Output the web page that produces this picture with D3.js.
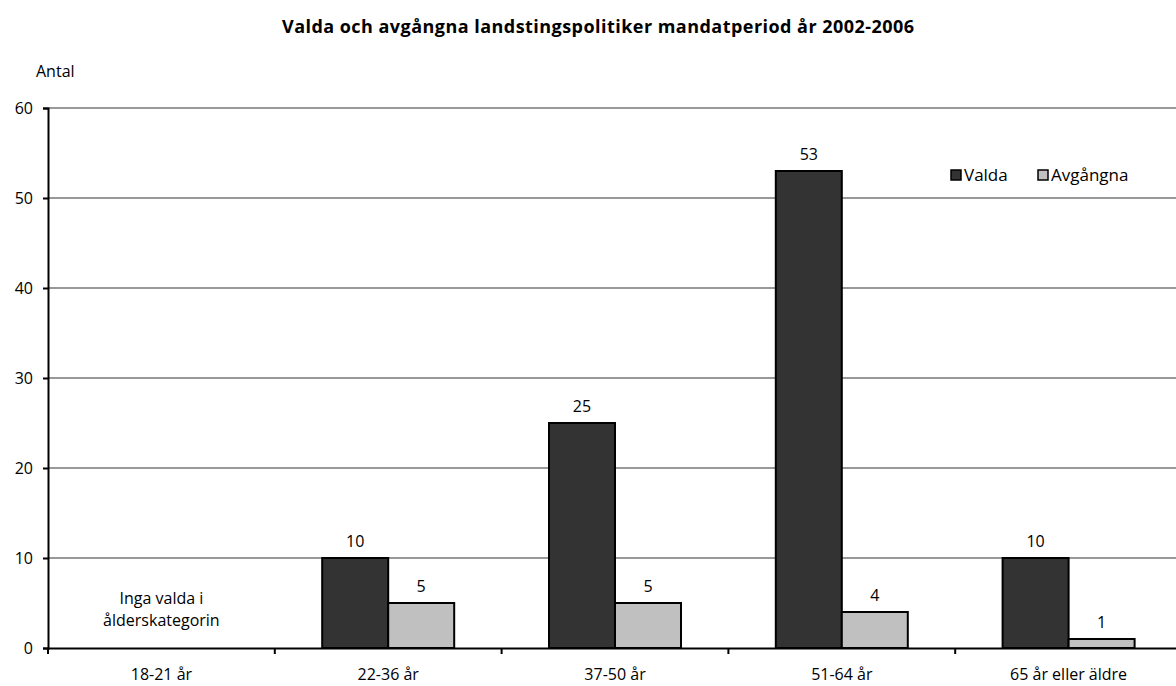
<!DOCTYPE html>
<html><head><meta charset="utf-8">
<script src="https://cdn.jsdelivr.net/npm/d3@7"></script>
<style>body{margin:0;background:#fff}svg{display:block;font-family:"Open Sans", Lato, sans-serif}</style>
</head><body><svg id="c" width="1176" height="686"></svg>
<script>
const title = "Valda och avgångna landstingspolitiker mandatperiod år 2002-2006";
const yLabel = "Antal";
const categories = ["18-21 år","22-36 år","37-50 år","51-64 år","65 år eller äldre"];
const seriesNames = ["Valda","Avgångna"];
const valda = [null,10,25,53,10];
const avgangna = [null,5,5,4,1];
const yTicks = [0,10,20,30,40,50,60];
const noteLines = ["Inga valda i","ålderskategorin"];
const colors = ["#333333","#c0c0c0"];

const FONT = '"Open Sans", Lato, sans-serif';
const FS = 16;
const svg = d3.select("#c");
const plotLeft = 48, plotBottom = 648, plotTop = 108, step = 226.8;
const x0 = d3.scaleBand().domain(categories).range([plotLeft, plotLeft + step*categories.length]).paddingInner(0.418).paddingOuter(0.209);
const x1 = d3.scaleBand().domain(seriesNames).range([0, x0.bandwidth()]);
const y = d3.scaleLinear().domain([0,60]).range([plotBottom, plotTop]);

// gridlines
svg.append("g").selectAll("line").data(yTicks.filter(d=>d>0)).join("line")
  .attr("x1", plotLeft).attr("x2", plotLeft + step*categories.length)
  .attr("y1", d=>y(d)).attr("y2", d=>y(d))
  .attr("stroke","#999").attr("stroke-width",2);

// bars
const rows = categories.map((c,i)=>({cat:c, vals:[valda[i], avgangna[i]]}));
const g = svg.append("g");
rows.forEach(r=>{
  r.vals.forEach((v,j)=>{
    if (v==null) return;
    const xx = x0(r.cat) + x1(seriesNames[j]);
    g.append("rect").attr("x", xx).attr("y", y(v)).attr("width", x1.bandwidth()).attr("height", y(0)-y(v))
      .attr("fill", colors[j]).attr("stroke","#000").attr("stroke-width",2);
    g.append("text").attr("x", xx + x1.bandwidth()/2).attr("y", y(v)-11).attr("text-anchor","middle")
      .attr("font-size",FS).attr("fill","#000").text(v);
  });
});

// y axis
const ya = svg.append("g").attr("transform",`translate(${plotLeft},0)`)
  .call(d3.axisLeft(y).tickValues(yTicks).tickSize(5).tickPadding(10));
ya.select(".domain").attr("stroke","#000").attr("stroke-width",2);
ya.selectAll(".tick line").attr("stroke","#000").attr("stroke-width",2);
ya.selectAll(".tick text").attr("font-size",FS).attr("font-family",FONT).attr("fill","#000");

// x axis
const xa = svg.append("g").attr("transform",`translate(0,${plotBottom})`)
  .call(d3.axisBottom(x0).tickSize(0).tickPadding(21));
xa.select(".domain").attr("stroke","#000").attr("stroke-width",2);
xa.selectAll(".tick text").attr("font-size",FS).attr("font-family",FONT).attr("fill","#000");
xa.append("g").selectAll("line").data(d3.range(categories.length+1)).join("line")
  .attr("x1", i=>plotLeft+i*step).attr("x2", i=>plotLeft+i*step).attr("y1",0).attr("y2",6)
  .attr("stroke","#000").attr("stroke-width",2);

// note
const nx = x0(categories[0]) + x0.bandwidth()/2;
svg.append("text").attr("y", 604).attr("text-anchor","middle")
  .attr("font-size",FS).selectAll("tspan").data(noteLines).join("tspan")
  .attr("x", nx).attr("dy",(d,i)=>i?22:0).text(d=>d);

// title
svg.append("text").attr("x",598).attr("y",33).attr("text-anchor","middle").attr("font-size",18)
  .attr("font-weight","bold").attr("textLength",632).attr("lengthAdjust","spacing").text(title);
svg.append("text").attr("x",36).attr("y",77).attr("font-size",FS).text(yLabel);

// legend
const lg = svg.append("g");
const legX = [951, 1038];
seriesNames.forEach((s,i)=>{
  lg.append("rect").attr("x",legX[i]).attr("y",170).attr("width",10).attr("height",10)
    .attr("fill",colors[i]).attr("stroke","#000").attr("stroke-width",1.5);
  lg.append("text").attr("x",legX[i]+13).attr("y",181).attr("font-size",17).text(s);
});
</script></body></html>
